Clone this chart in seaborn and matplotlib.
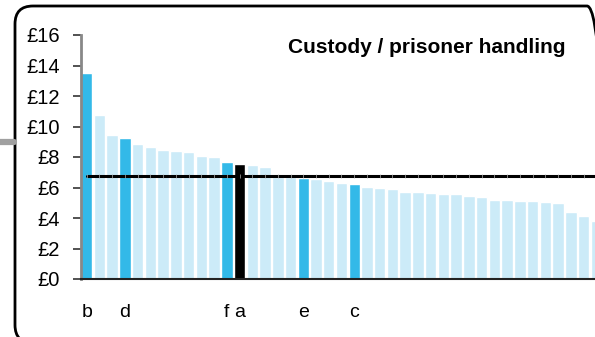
import numpy as np
import pandas as pd
import matplotlib
matplotlib.use("Agg")
import matplotlib.pyplot as plt
import matplotlib.patches as mpatches
from matplotlib.transforms import IdentityTransform
import seaborn as sns

# cost per head, custody / prisoner handling, sorted high -> low
costs = [13.53, 10.75, 9.44, 9.27, 8.87, 8.68, 8.48, 8.41, 8.35, 8.09,
         8.02, 7.67, 7.56, 7.50, 7.36, 6.72, 6.69, 6.64, 6.56, 6.43,
         6.30, 6.23, 6.03, 5.97, 5.90, 5.70, 5.70, 5.64, 5.57, 5.57,
         5.44, 5.38, 5.18, 5.18, 5.11, 5.11, 5.05, 4.98, 4.39, 4.13,
         3.80]
labels = ["b", "", "", "d", "", "", "", "", "", "",
          "", "f", "a", "", "", "", "", "e", "", "",
          "", "c", "", "", "", "", "", "", "", "",
          "", "", "", "", "", "", "", "", "", "",
          ""]
groups = ["peer"] + ["other"] * 2 + ["peer"] + ["other"] * 7 + ["peer", "self"] \
    + ["other"] * 4 + ["peer"] + ["other"] * 3 + ["peer"] + ["other"] * 19
average = 6.78
title = "Custody / prisoner handling"

palette = {"other": "#CCEBF8", "peer": "#33B9E8", "self": "#000000"}

df = pd.DataFrame({"pos": range(len(costs)), "cost": costs, "group": groups})

sns.set_style("white")
plt.rcParams["font.family"] = ["Liberation Sans", "DejaVu Sans"]
plt.rcParams["text.color"] = "black"
plt.rcParams["xtick.labelcolor"] = "black"
plt.rcParams["ytick.labelcolor"] = "black"

fig = plt.figure(figsize=(5.95, 3.37), dpi=100)
ax = fig.add_axes([81 / 595, 58 / 337, 521 / 595, 244 / 337])

sns.barplot(data=df, x="pos", y="cost", hue="group", palette=palette,
            dodge=False, width=0.9, saturation=1, legend=False, ax=ax)

# average line
ax.plot(df["pos"], [average] * len(df), color="black", lw=2.2,
        marker="|", ms=3.2, mec="#b0b0b0", mew=0.5, zorder=5)

ax.set_xlim(-0.45, len(costs) - 0.55)
ax.set_ylim(0, 16)
ax.set_yticks(range(0, 17, 2))
ax.set_yticklabels([f"£{v}" for v in range(0, 17, 2)], fontsize=14.5)
ax.set_xticks(range(len(costs)))
ax.set_xticklabels(labels, fontsize=14)
ax.tick_params(axis="x", length=0, pad=18)
ax.tick_params(axis="y", length=6, width=1.2, color="#333333", pad=9, left=True)
ax.set_xlabel("")
ax.set_ylabel("")

for s in ["top", "right"]:
    ax.spines[s].set_visible(False)
ax.spines["left"].set_color("#888888")
ax.spines["left"].set_linewidth(2)
ax.spines["bottom"].set_color("#222222")
ax.spines["bottom"].set_linewidth(1.5)

fig.text(566 / 595, 284 / 337, title, ha="right", va="baseline",
         fontsize=15, fontweight="bold")

# rounded panel frame and connector
frame = mpatches.FancyBboxPatch((15, -6), 590, 337, boxstyle="round,pad=0,rounding_size=18",
                                fill=False, ec="black", lw=2, transform=IdentityTransform())
fig.add_artist(frame)
fig.add_artist(plt.Line2D([0, 14], [195, 195], color="#A0A0A0", lw=4.5,
                          transform=IdentityTransform()))

fig.savefig("out.png", dpi=100)
